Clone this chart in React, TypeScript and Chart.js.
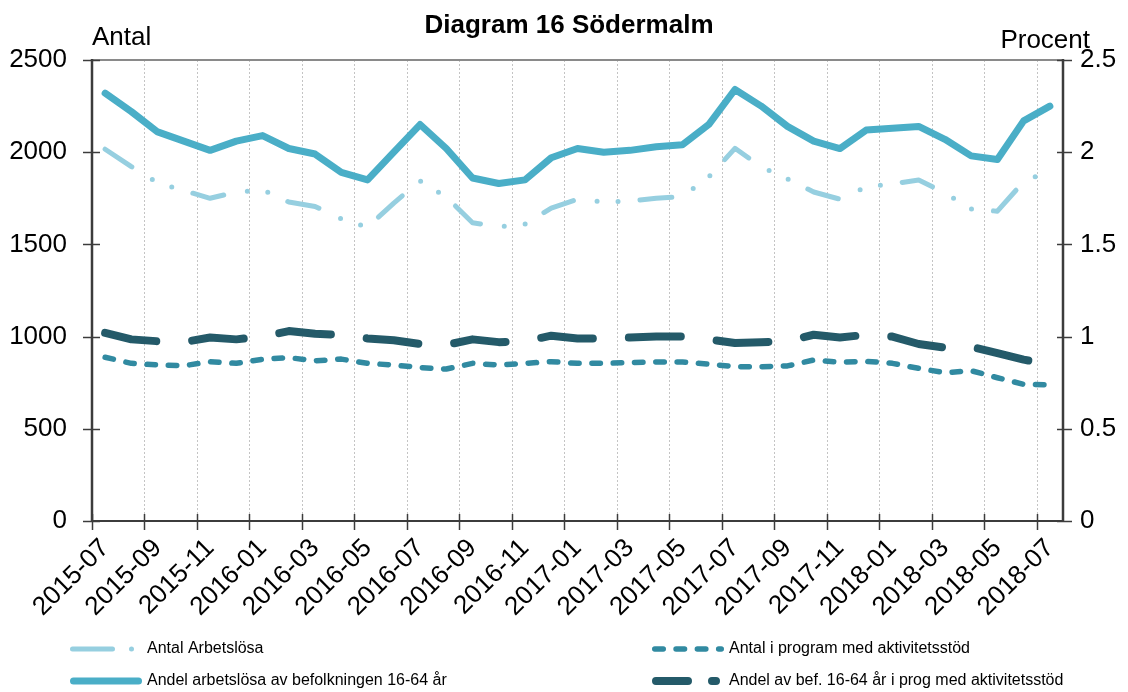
import React, { useEffect, useRef } from 'react';
import { Chart, registerables } from 'chart.js';

Chart.register(...registerables);

const months = [
  '2015-07', '2015-08', '2015-09', '2015-10', '2015-11', '2015-12',
  '2016-01', '2016-02', '2016-03', '2016-04', '2016-05', '2016-06',
  '2016-07', '2016-08', '2016-09', '2016-10', '2016-11', '2016-12',
  '2017-01', '2017-02', '2017-03', '2017-04', '2017-05', '2017-06',
  '2017-07', '2017-08', '2017-09', '2017-10', '2017-11', '2017-12',
  '2018-01', '2018-02', '2018-03', '2018-04', '2018-05', '2018-06',
  '2018-07',
];

// Left axis (Antal)
const antalArbetslosa = [
  2016, 1922, 1835, 1792, 1750, 1784, 1795, 1730, 1706, 1638, 1594, 1724,
  1845, 1757, 1617, 1596, 1610, 1697, 1745, 1730, 1735, 1750, 1760, 1865,
  2021, 1921, 1855, 1784, 1745, 1811, 1828, 1849, 1779, 1692, 1680, 1840,
  1900,
];
const antalProgram = [
  888, 855, 846, 842, 864, 855, 877, 886, 869, 878, 855, 846,
  832, 824, 855, 846, 855, 864, 855, 855, 859, 862, 862, 851,
  837, 837, 841, 873, 861, 866, 855, 828, 804, 815, 777, 741,
  738,
];

// Right axis (Procent)
const andelArbetslosa = [
  2.32, 2.22, 2.11, 2.06, 2.01, 2.06, 2.09, 2.02, 1.99, 1.89, 1.85, 2.0,
  2.15, 2.02, 1.86, 1.83, 1.85, 1.97, 2.02, 2.0, 2.01, 2.03, 2.04, 2.15,
  2.34, 2.25, 2.14, 2.06, 2.02, 2.12, 2.13, 2.14, 2.07, 1.98, 1.96, 2.17,
  2.25,
];
const andelProgram = [
  1.02, 0.985, 0.975, 0.97, 0.995, 0.985, 1.0, 1.03, 1.015, 1.01, 0.99, 0.98,
  0.96, 0.955, 0.985, 0.97, 0.975, 1.005, 0.99, 0.99, 0.995, 1.0, 1.0, 0.985,
  0.965, 0.97, 0.975, 1.01, 0.995, 1.01, 1.0, 0.96, 0.94, 0.945, 0.91, 0.875,
  0.85,
];

const leftTicks = [0, 500, 1000, 1500, 2000, 2500];
const rightTicks = [0, 0.5, 1, 1.5, 2, 2.5];

const titleText = 'Diagram 16 Södermalm';
const leftAxisTitle = 'Antal';
const rightAxisTitle = 'Procent';
const seriesNames = [
  'Antal Arbetslösa',
  'Antal i program med aktivitetsstöd',
  'Andel arbetslösa av befolkningen 16-64 år',
  'Andel av bef. 16-64 år i prog med aktivitetsstöd',
];

const FONT = '"Liberation Sans", Arial, Helvetica, sans-serif';

const styles = [
  { color: '#96cfe0', width: 5, dash: [32, 24, 0, 21, 0, 22], legendDash: [40, 19, 0, 200], axis: 'y' },
  { color: '#318aa1', width: 5.5, dash: [8.5, 12.8], legendDash: [8.5, 12.8], axis: 'y' },
  { color: '#4aaec7', width: 7, dash: [], legendDash: [], axis: 'y1' },
  { color: '#245a69', width: 8, dash: [52, 36], legendDash: [32, 24, 4, 200], axis: 'y1' },
];
const seriesData = [antalArbetslosa, antalProgram, andelArbetslosa, andelProgram];

const framePlugin = {
  id: 'frame',
  beforeDatasetsDraw(chart: any) {
    const { ctx, chartArea: a, scales } = chart;
    const xs = scales.x;
    const yl = scales.y;
    const yr = scales.y1;
    const seg = (x1: number, y1: number, x2: number, y2: number) => {
      ctx.beginPath();
      ctx.moveTo(x1, y1);
      ctx.lineTo(x2, y2);
      ctx.stroke();
    };
    ctx.save();
    // dotted vertical gridlines at every second month boundary
    ctx.strokeStyle = '#c4c4c4';
    ctx.lineWidth = 1;
    ctx.setLineDash([2, 2]);
    for (let i = 2; i < months.length; i += 2) {
      const px = Math.round(xs.getPixelForValue(i - 0.5)) + 0.5;
      seg(px, a.top, px, a.bottom);
    }
    ctx.setLineDash([]);
    // top border
    ctx.strokeStyle = '#8a8a8a';
    ctx.lineWidth = 2;
    seg(a.left, a.top, a.right, a.top);
    // axes
    ctx.strokeStyle = '#3c3c3c';
    ctx.lineWidth = 2.5;
    seg(a.left, a.top - 1, a.left, a.bottom + 1);
    seg(a.right, a.top - 1, a.right, a.bottom + 1);
    ctx.lineWidth = 2;
    seg(a.left, a.bottom, a.right, a.bottom);
    // tick marks
    ctx.lineWidth = 1.5;
    for (let i = 0; i < months.length; i += 2) {
      const px = Math.round(xs.getPixelForValue(i - 0.5)) + 0.5;
      seg(px, a.bottom - 7, px, a.bottom + 9);
    }
    leftTicks.forEach((v) => {
      const py = Math.round(yl.getPixelForValue(v)) + 0.5;
      seg(a.left - 9, py, a.left + 8, py);
    });
    rightTicks.forEach((v) => {
      const py = Math.round(yr.getPixelForValue(v)) + 0.5;
      seg(a.right - 6, py, a.right + 9, py);
    });
    ctx.restore();
  },
  afterDraw(chart: any) {
    const { ctx, chartArea: a } = chart;
    ctx.save();
    ctx.fillStyle = '#000';
    // title
    ctx.font = `bold 26px ${FONT}`;
    ctx.textAlign = 'center';
    ctx.textBaseline = 'alphabetic';
    ctx.fillText(titleText, 569, 33);
    // axis titles
    ctx.font = `26px ${FONT}`;
    ctx.textAlign = 'left';
    ctx.fillText(leftAxisTitle, a.left, 45);
    ctx.textAlign = 'right';
    ctx.fillText(rightAxisTitle, 1090, 48);
    // legend
    const cols = [70, 652];
    const rows = [649, 681];
    const sampleLen = 72;
    ctx.font = `16px ${FONT}`;
    ctx.textBaseline = 'middle';
    ctx.textAlign = 'left';
    chart.data.datasets.forEach((ds: any, i: number) => {
      const x0 = cols[i % 2];
      const y0 = rows[Math.floor(i / 2)];
      const st = styles[i];
      ctx.save();
      ctx.strokeStyle = ds.borderColor;
      ctx.lineWidth = ds.borderWidth;
      ctx.lineCap = 'round';
      ctx.setLineDash(st.legendDash);
      ctx.beginPath();
      ctx.moveTo(x0 + ds.borderWidth / 2, y0);
      ctx.lineTo(x0 + sampleLen - ds.borderWidth / 2, y0);
      ctx.stroke();
      ctx.restore();
      ctx.fillStyle = '#000';
      ctx.fillText(ds.label, x0 + sampleLen + 5, y0);
    });
    ctx.restore();
  },
};

export default function App() {
  const ref = useRef<HTMLCanvasElement | null>(null);

  useEffect(() => {
    document.body.style.margin = '0';
    const canvas = ref.current;
    if (!canvas) return;
    const datasets = seriesData.map((d, i) => ({
      label: seriesNames[i],
      data: d,
      yAxisID: styles[i].axis,
      borderColor: styles[i].color,
      backgroundColor: styles[i].color,
      borderWidth: styles[i].width,
      borderDash: styles[i].dash,
      borderCapStyle: 'round',
      borderJoinStyle: 'round',
      pointRadius: 0,
      pointHoverRadius: 0,
      tension: 0,
      fill: false,
    }));
    const chart = new Chart(canvas, {
      type: 'line',
      data: { labels: months, datasets } as any,
      options: {
        animation: false,
        responsive: false,
        devicePixelRatio: 1,
        layout: { padding: { top: 60, left: 0, right: 0, bottom: 0 } },
        plugins: {
          legend: { display: false },
          title: { display: false },
          tooltip: { enabled: false },
        },
        scales: {
          x: {
            type: 'category',
            offset: true,
            grid: { display: false, drawTicks: false },
            border: { display: false },
            ticks: {
              autoSkip: false,
              minRotation: 45,
              maxRotation: 45,
              padding: 12,
              color: '#000',
              font: { family: FONT, size: 26 },
              callback: (_v: any, i: number) => (i % 2 === 0 ? months[i] : ''),
            },
            afterFit: (s: any) => {
              s.height = 171;
            },
          },
          y: {
            position: 'left',
            min: 0,
            max: 2500,
            grid: { display: false, drawTicks: false },
            border: { display: false },
            afterBuildTicks: (s: any) => {
              s.ticks = leftTicks.map((v) => ({ value: v }));
            },
            ticks: {
              padding: 25,
              color: '#000',
              font: { family: FONT, size: 26 },
              callback: (v: any) => String(v),
            },
            afterFit: (s: any) => {
              s.width = 92;
            },
          },
          y1: {
            position: 'right',
            min: 0,
            max: 2.5,
            grid: { display: false, drawTicks: false },
            border: { display: false },
            afterBuildTicks: (s: any) => {
              s.ticks = rightTicks.map((v) => ({ value: v }));
            },
            ticks: {
              padding: 17,
              color: '#000',
              font: { family: FONT, size: 26 },
              callback: (v: any) => String(v),
            },
            afterFit: (s: any) => {
              s.width = 65;
            },
          },
        },
      } as any,
      plugins: [framePlugin],
    });
    return () => chart.destroy();
  }, []);

  return (
    <div style={{ width: 1128, height: 692, position: 'relative', background: '#fff' }}>
      <canvas ref={ref} width={1128} height={692} style={{ display: 'block' }} />
    </div>
  );
}
